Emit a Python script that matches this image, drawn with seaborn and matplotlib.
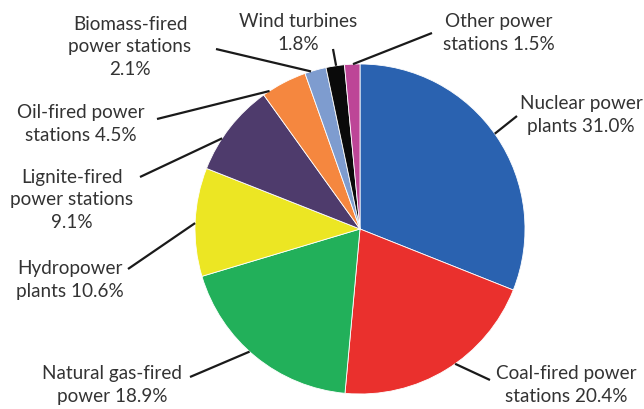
import numpy as np
import matplotlib
matplotlib.use("Agg")
import matplotlib.pyplot as plt
import seaborn as sns

# data
sources = ["Nuclear power\nplants", "Coal-fired power\nstations", "Natural gas-fired\npower",
           "Hydropower\nplants", "Lignite-fired\npower stations\n", "Oil-fired power\nstations",
           "Biomass-fired\npower stations\n", "Wind turbines\n", "Other power\nstations"]
shares = [31.0, 20.4, 18.9, 10.6, 9.1, 4.5, 2.1, 1.8, 1.5]
colors = ["#2a62b0", "#ea302d", "#22b05a", "#ece623", "#4e3b6c",
          "#f5873f", "#7e9ccf", "#0a0a0a", "#bd4597"]

# layout (pixels in a 644x410 canvas): label centre, leader start, anchor fraction in wedge
label_px = [(581, 115), (566, 385), (112, 385), (70, 280), (72, 200),
            (81, 124), (130, 47), (298, 33), (499, 33)]
leader_px = [(517, 117), (490, 381), (190, 378), (128, 270), (140, 178),
             (157, 120), (216, 50), (333, 50), (432, 34)]
anchor_frac = [0.49, 0.45, 0.54, 0.49, 0.36, 0.15, 0.29, 0.55, 0.55]

W, H = 644, 410
CX, CY, R = 360, 230, 165


def to_data(px, py):
    return (px - CX) / R, (CY - py) / R


sns.set_theme(style="white")
plt.rcParams["font.family"] = ["Lato", "DejaVu Sans"]

fig = plt.figure(figsize=(W / 100, H / 100), dpi=100)
ax = fig.add_axes([0, 0, 1, 1])
wedges, _ = ax.pie(shares, colors=colors, startangle=90, counterclock=False, radius=1,
                   wedgeprops=dict(linewidth=0.6, edgecolor="white"))
ax.set_xlim(-CX / R, (W - CX) / R)
ax.set_ylim(-(H - CY) / R, CY / R)
ax.set_aspect("equal")
ax.axis("off")

for w, name, val, lp, sp, f in zip(wedges, sources, shares, label_px, leader_px, anchor_frac):
    # angle inside wedge (clockwise from theta2 to theta1)
    ang = np.deg2rad(w.theta2 - f * (w.theta2 - w.theta1))
    ex, ey = np.cos(ang), np.sin(ang)
    sx, sy = to_data(*sp)
    ax.plot([sx, ex], [sy, ey], color="#1a1a1a", lw=1.6, solid_capstyle="butt")
    if name.endswith("\n"):
        txt = f"{name}{val:.1f}%"
    else:
        txt = f"{name} {val:.1f}%"
    tx, ty = to_data(*lp)
    ax.text(tx, ty, txt, ha="center", va="center", fontsize=13.6, color="#333333",
            linespacing=1.38)

plt.savefig("out.png", dpi=100)
